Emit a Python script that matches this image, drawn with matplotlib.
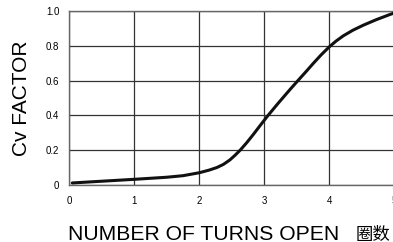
import numpy as np
import matplotlib
matplotlib.use('Agg')
import matplotlib.pyplot as plt

# Cv factor vs. number of turns open
turns = [0.05, 0.5, 1.0, 1.5, 1.75, 2.0, 2.15, 2.27, 2.37, 2.47, 2.55, 2.63, 2.73, 2.83, 2.94, 3.05,
         3.2, 3.39, 3.52, 3.64, 3.75, 3.87, 4.0, 4.1, 4.21, 4.36, 4.52, 4.72, 4.93, 5.0]
cv = [0.01, 0.02, 0.031, 0.043, 0.052, 0.069, 0.084, 0.099, 0.117, 0.143, 0.17, 0.2, 0.243, 0.29, 0.344, 0.397,
      0.465, 0.548, 0.603, 0.653, 0.70, 0.749, 0.797, 0.829, 0.859, 0.892, 0.921, 0.953, 0.983, 0.992]
xticks = [0, 1, 2, 3, 4, 5]
yticks = [0, 0.2, 0.4, 0.6, 0.8, 1.0]
ytick_labels = ['0', '0.2', '0.4', '0.6', '0.8', '1.0']

plt.rcParams['font.family'] = ['Liberation Sans', 'Noto Sans CJK SC', 'DejaVu Sans']

fig = plt.figure(figsize=(3.93, 2.42), dpi=100)
ax = fig.add_axes([0.1756, 0.2368, 0.8285, 0.7157])

ax.plot(turns, cv, color='#111111', lw=2.2, solid_capstyle='round', solid_joinstyle='round', zorder=3)

ax.set_xlim(0, 5)
ax.set_ylim(0, 1.0)
ax.set_xticks(xticks)
ax.set_yticks(yticks)
ax.set_yticklabels(ytick_labels)
ax.grid(True, color='#333333', lw=0.9)
ax.tick_params(length=0, labelsize=7)
ax.tick_params(axis='x', pad=8.5)
ax.tick_params(axis='y', pad=7)
for s in ax.spines.values():
  s.set_color('#666666')
  s.set_linewidth(1.0)

# x title in two parts: english + chinese
fig.text(68 / 393, 1 - 239.5 / 242, 'NUMBER OF TURNS OPEN', fontsize=15.2, ha='left', va='baseline')
fig.text(356 / 393, 1 - 239.5 / 242, '圈数', fontsize=12.5, ha='left', va='baseline',
         family=['Noto Sans CJK SC', 'DejaVu Sans'])
ax.set_ylabel('Cv FACTOR', fontsize=15, labelpad=11)

fig.savefig('out.png', dpi=100)
